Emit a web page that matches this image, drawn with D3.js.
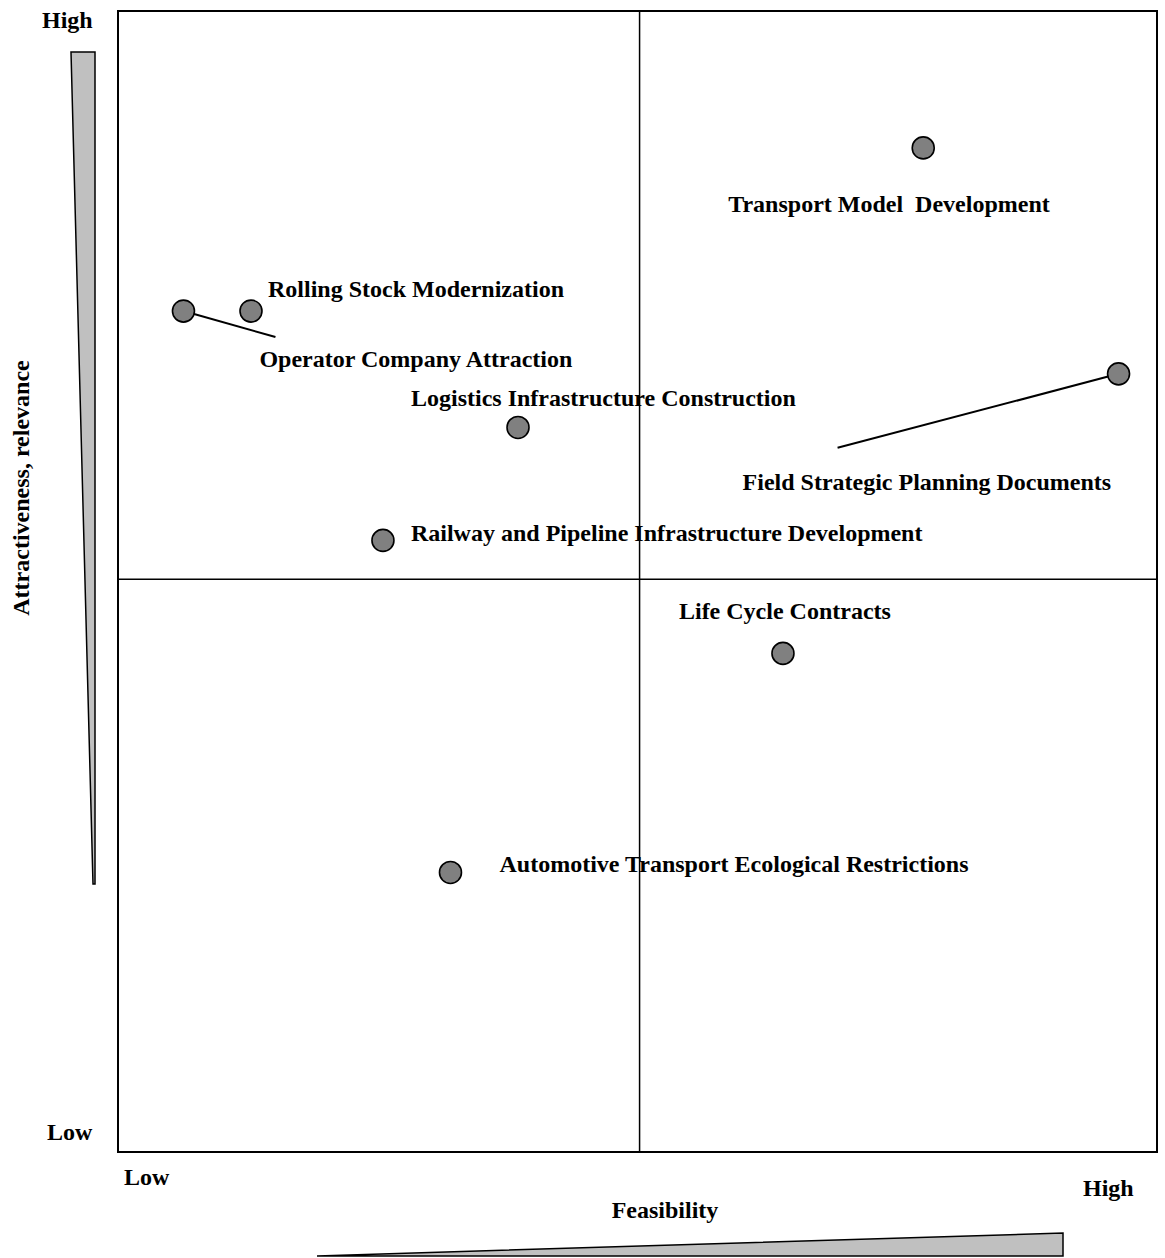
<!DOCTYPE html>
<html>
<head>
<meta charset="utf-8">
<script src="https://cdn.jsdelivr.net/npm/d3@7"></script>
<style>
  html, body { margin: 0; padding: 0; background: #fff; }
  svg { display: block; }
  text { font-family: "Liberation Serif", "Times New Roman", serif; font-weight: bold; font-size: 24px; fill: #000; }
</style>
</head>
<body>
<script>
// ---- data ----
const initiatives = [
  "Transport Model  Development",
  "Rolling Stock Modernization",
  "Operator Company Attraction",
  "Logistics Infrastructure Construction",
  "Field Strategic Planning Documents",
  "Railway and Pipeline Infrastructure Development",
  "Life Cycle Contracts",
  "Automotive Transport Ecological Restrictions"
];
const feasibility    = [77.5, 12.8, 6.3, 38.5, 96.3, 25.5, 64.0, 32.0];
const attractiveness = [88.0, 73.7, 73.7, 63.5, 68.2, 53.6, 43.7, 24.5];
const quadrantSplitX = 50.2;
const quadrantSplitY = 50.2;
const axisLevelLabels = ["Low", "High"];
const xTitle = "Feasibility";
const yTitle = "Attractiveness, relevance";

// ---- layout (label offsets from point, leader line ends) ----
const labelOffsets = [
  {dx: -195, dy: 64},
  {dx: 17, dy: -14},
  {dx: 76, dy: 56, lx: 92, ly: 26},
  {dx: -107, dy: -21},
  {dx: -376, dy: 116, lx: -281, ly: 74},
  {dx: 28, dy: 1},
  {dx: -104, dy: -34},
  {dx: 49, dy: 0}
];

const W = 1165, H = 1258;
const svg = d3.select("body").append("svg").attr("width", W).attr("height", H);

const x = d3.scaleLinear().domain([0, 100]).range([118, 1157]);
const y = d3.scaleLinear().domain([0, 100]).range([1152, 11]);

// frame
svg.append("rect")
  .attr("x", x(0)).attr("y", y(100))
  .attr("width", x(100) - x(0)).attr("height", y(0) - y(100))
  .attr("fill", "none").attr("stroke", "#000").attr("stroke-width", 2);

// quadrant dividers
svg.append("line")
  .attr("x1", x(quadrantSplitX)).attr("x2", x(quadrantSplitX))
  .attr("y1", y(100)).attr("y2", y(0))
  .attr("stroke", "#000").attr("stroke-width", 1.5);
svg.append("line")
  .attr("x1", x(0)).attr("x2", x(100))
  .attr("y1", y(quadrantSplitY)).attr("y2", y(quadrantSplitY))
  .attr("stroke", "#000").attr("stroke-width", 1.5);

const pts = initiatives.map((name, i) => ({
  name, fx: feasibility[i], ay: attractiveness[i], off: labelOffsets[i]
}));

// leader lines
pts.filter(d => d.off.lx !== undefined).forEach(d => {
  const cx = x(d.fx), cy = y(d.ay);
  svg.append("line")
    .attr("x1", cx).attr("y1", cy)
    .attr("x2", cx + d.off.lx).attr("y2", cy + d.off.ly)
    .attr("stroke", "#000").attr("stroke-width", 2);
});

// points
svg.selectAll("circle.pt").data(pts).enter().append("circle")
  .attr("class", "pt")
  .attr("cx", d => x(d.fx)).attr("cy", d => y(d.ay)).attr("r", 11)
  .attr("fill", "#808080").attr("stroke", "#000").attr("stroke-width", 1.6);

// labels
svg.selectAll("text.lbl").data(pts).enter().append("text")
  .attr("class", "lbl")
  .attr("x", d => x(d.fx) + d.off.dx)
  .attr("y", d => y(d.ay) + d.off.dy)
  .attr("xml:space", "preserve")
  .style("white-space", "pre")
  .text(d => d.name);

// axis level labels
svg.append("text").attr("x", 42).attr("y", 28).text(axisLevelLabels[1]);
svg.append("text").attr("x", 47).attr("y", 1140).text(axisLevelLabels[0]);
svg.append("text").attr("x", 124).attr("y", 1185).text(axisLevelLabels[0]);
svg.append("text").attr("x", 1083).attr("y", 1196).text(axisLevelLabels[1]);

// axis titles
svg.append("text").attr("x", 665).attr("y", 1218).attr("text-anchor", "middle").text(xTitle);
svg.append("text")
  .attr("transform", "translate(29,488) rotate(-90)")
  .attr("text-anchor", "middle").text(yTitle);

// wedge indicators
svg.append("path")
  .attr("d", "M71,52 L95,52 L95,884 L93,884 Z")
  .attr("fill", "#c0c0c0").attr("stroke", "#000").attr("stroke-width", 1.5);
svg.append("path")
  .attr("d", "M317,1256 L1063,1233 L1063,1256 Z")
  .attr("fill", "#c0c0c0").attr("stroke", "#000").attr("stroke-width", 1.5);
</script>
</body>
</html>
